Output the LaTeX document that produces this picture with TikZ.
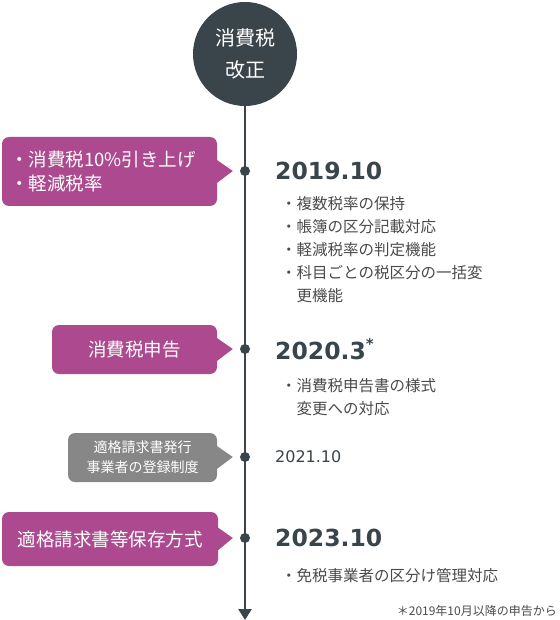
\documentclass[tikz,border=0pt]{standalone}
\usepackage{fontspec}
\setmainfont{Noto Sans CJK JP}
\newfontfamily\datefont{DejaVu Sans}
\usetikzlibrary{arrows.meta,positioning,calc}
\definecolor{cDark}{HTML}{3A444B}
\definecolor{cMag} {HTML}{AD4A8F}
\definecolor{cGray}{HTML}{878787}
\definecolor{cText}{HTML}{4A4A4A}
\tikzset{
  bub/.style   ={fill=cMag,text=white,rounded corners=7pt,inner sep=0pt,align=center,
                 font=\fontsize{18.5}{24}\selectfont},
  bubg/.style  ={bub,fill=cGray,font=\fontsize{14}{20}\selectfont},
  dot/.style   ={circle,fill=cDark,inner sep=0pt,minimum size=10pt},
  datebig/.style={anchor=west,inner sep=0pt,text=cDark,
                 font=\datefont\bfseries\fontsize{23.5}{24}\selectfont},
  datesm/.style={anchor=west,inner sep=0pt,text=cDark,
                 font=\datefont\fontsize{16}{16}\selectfont},
  itemlist/.style={anchor=north west,inner sep=0pt,align=left,text=cText,
                 font=\fontsize{15.5}{23}\selectfont},
  tline/.style ={draw=cDark,line width=2.5pt,-{Triangle[length=11pt,width=13pt]}},
}

\begin{document}
\begin{tikzpicture}[x=1pt,y=-1pt]
\useasboundingbox (0,0) rectangle (559,620);

% ---------------- time line -----------------------------------------------
\node[circle,fill=cDark,minimum size=104pt,inner sep=0pt,text=white,align=center,
      font=\fontsize{20}{32}\selectfont] (top) at (245,54) {消費税\\改正};
\coordinate (end) at (245,620);
\draw[tline] (top.south) -- (end);
\foreach \n/\y in {1/171,2/349,3/457,4/538}
  {\node[dot] (d\n) at (245,\y) {};}

% ---------------- bubbles -------------------------------------------------
\node[bub,minimum width=215pt,minimum height=69pt,text width=199pt,align=left,
      inner xsep=8pt] (b1) at (109.5,171.5) {・消費税10\%引き上げ\\・軽減税率};
\node[bub,minimum width=165pt,minimum height=49pt] (b2) at (134.5,349.5) {消費税申告};
\node[bubg,minimum width=149pt,minimum height=49pt] (b3) at (142.5,457.5)
  {適格請求書発行\\事業者の登録制度};
\node[bub,minimum width=216pt,minimum height=54pt] (b4) at (110,539) {適格請求書等保存方式};
\foreach \n/\c in {1/cMag,2/cMag,3/cGray,4/cMag}
  {\fill[\c] ($(b\n.east)+(-1,-12)$) -- ($(d\n.west)+(-7,0)$) -- ($(b\n.east)+(-1,12)$) -- cycle;}

% ---------------- dates and items -----------------------------------------
\node[datebig] (t1) at (275,171) {2019.10};
\node[itemlist] (i1) at (281,196)
  {・複数税率の保持\\・帳簿の区分記載対応\\・軽減税率の判定機能\\
   ・科目ごとの税区分の一括変\\\hphantom{・}更機能};
\node[datebig] (t2) at (275,349) {2020.3\raisebox{0.4em}{\fontsize{15}{15}\selectfont *}};
\node[itemlist] (i2) at (281,378) {・消費税申告書の様式\\\hphantom{・}変更への対応};
\node[datesm] (t3) at (275,457) {2021.10};
\node[datebig] (t4) at (275,538) {2023.10};
\node[itemlist] (i4) at (281,568) {・免税事業者の区分け管理対応};

% ---------------- note ----------------------------------------------------
\node[anchor=east,inner sep=0pt,text=cText,font=\fontsize{12}{12}\selectfont] (note)
  at (557,611) {＊2019年10月以降の申告から};
\end{tikzpicture}
\end{document}
